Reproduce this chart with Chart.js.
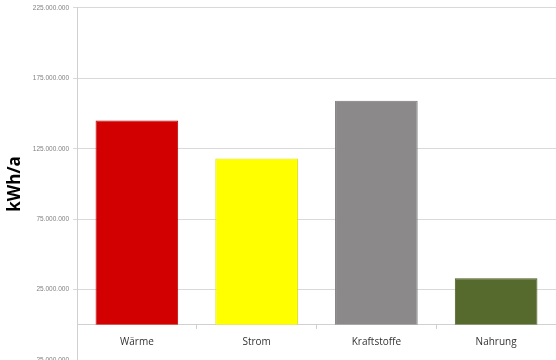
<!DOCTYPE html>
<html>
<head>
<meta charset="utf-8">
<script src="https://cdn.jsdelivr.net/npm/chart.js@4/dist/chart.umd.min.js"></script>
<style>
  html, body { margin: 0; padding: 0; background: #fff; overflow: hidden; }
  #wrap { position: relative; width: 556px; height: 372px; }
</style>
</head>
<body>
<div id="wrap"><canvas id="c" width="556" height="372"></canvas></div>
<script>
const categories = ['Wärme', 'Strom', 'Kraftstoffe', 'Nahrung'];
const values = [145000000, 118000000, 159000000, 33000000];
const barColors = ['#D20000', '#FFFF00', '#8C898B', '#576A2D'];
const barBorders = ['#B80000', '#E0E000', '#7A7779', '#4A5B25'];
const yMin = -25000000;
const yMax = 225000000;
const yStep = 50000000;
const yTitle = 'kWh/a';

function fmt(v) {
  const neg = v < 0;
  let s = Math.round(Math.abs(v)).toString();
  s = s.replace(/\B(?=(\d{3})+(?!\d))/g, '.');
  return (neg ? '-' : '') + s;
}

const titlePlugin = {
  id: 'yTitle',
  afterDraw(chart) {
    const ctx = chart.ctx;
    ctx.save();
    ctx.translate(15, 184);
    ctx.rotate(-Math.PI / 2);
    ctx.font = 'bold 17px "Open Sans", "Liberation Sans", sans-serif';
    ctx.fillStyle = '#000';
    ctx.textAlign = 'center';
    ctx.textBaseline = 'middle';
    ctx.fillText(yTitle, 0, 0);
    ctx.restore();
  }
};

new Chart(document.getElementById('c'), {
  type: 'bar',
  data: {
    labels: categories,
    datasets: [{
      data: values,
      backgroundColor: barColors,
      borderColor: barBorders,
      borderWidth: 1,
      categoryPercentage: 1,
      barPercentage: 0.69
    }]
  },
  options: {
    responsive: false,
    animation: false,
    layout: { padding: { top: 7, right: 0, bottom: 12, left: 0 } },
    plugins: { legend: { display: false }, tooltip: { enabled: false } },
    scales: {
      x: {
        position: { y: 0 },
        offset: true,
        grid: { display: true, drawOnChartArea: false, drawTicks: true, tickLength: 4, color: '#d0d0d0', offset: true },
        border: { display: true, color: '#d0d0d0' },
        ticks: {
          color: '#333333',
          padding: 7,
          font: { family: '"Open Sans", "Liberation Sans", sans-serif', size: 10 }
        }
      },
      y: {
        min: yMin,
        max: yMax,
        afterFit(scale) { scale.width = 77; },
        afterBuildTicks(scale) {
          const t = [];
          for (let v = yMin; v <= yMax; v += yStep) t.push({ value: v });
          scale.ticks = t;
        },
        grid: { color: '#d9d9d9', tickLength: 4, drawTicks: true },
        border: { display: true, color: '#d0d0d0' },
        ticks: {
          color: '#808080',
          padding: 4,
          font: { family: '"Liberation Sans", sans-serif', size: 6.5 },
          callback: (v) => fmt(v)
        }
      }
    }
  },
  plugins: [titlePlugin]
});
</script>
</body>
</html>
